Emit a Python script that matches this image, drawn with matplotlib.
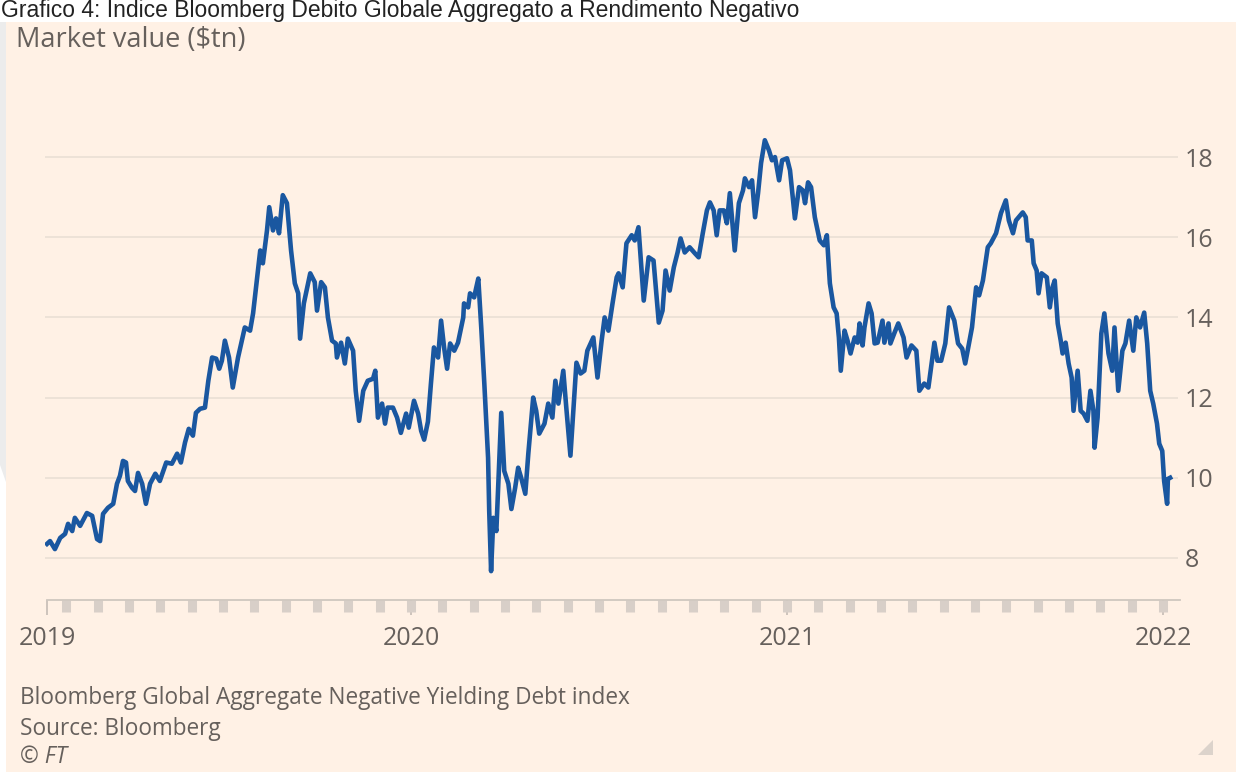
import matplotlib
matplotlib.use("Agg")
import matplotlib.pyplot as plt
from matplotlib.patches import Rectangle, Polygon

# market value of the index ($tn), dates as decimal years
years_2019 = [2019.032, 2019.040, 2019.053, 2019.067, 2019.080, 2019.088, 2019.099, 2019.106,
              2019.120, 2019.138, 2019.152, 2019.165, 2019.173, 2019.181, 2019.194, 2019.208,
              2019.218, 2019.226, 2019.234, 2019.242, 2019.247, 2019.258, 2019.266, 2019.274,
              2019.285, 2019.295, 2019.306, 2019.320, 2019.332, 2019.349, 2019.364, 2019.378,
              2019.388, 2019.399, 2019.409, 2019.420, 2019.428, 2019.439, 2019.452, 2019.461,
              2019.471, 2019.482, 2019.490, 2019.497, 2019.505, 2019.516, 2019.526, 2019.540,
              2019.558, 2019.572, 2019.580, 2019.591, 2019.599, 2019.606, 2019.617, 2019.623,
              2019.633, 2019.641, 2019.649, 2019.659, 2019.670, 2019.681, 2019.691, 2019.700,
              2019.705, 2019.715, 2019.732, 2019.744, 2019.750, 2019.761, 2019.771, 2019.779,
              2019.790, 2019.800, 2019.803, 2019.814, 2019.824, 2019.832, 2019.846, 2019.853,
              2019.862, 2019.873, 2019.885, 2019.899, 2019.905, 2019.912, 2019.923, 2019.931,
              2019.938, 2019.952, 2019.963, 2019.973, 2019.987, 2019.994]
values_2019 = [8.35, 8.42, 8.22, 8.50, 8.60, 8.85, 8.67, 9.00,
               8.80, 9.12, 9.05, 8.47, 8.42, 9.10, 9.25, 9.35,
               9.85, 10.05, 10.42, 10.38, 9.92, 9.75, 9.67, 10.12,
               9.85, 9.35, 9.85, 10.10, 9.92, 10.38, 10.35, 10.60,
               10.38, 10.88, 11.22, 11.05, 11.62, 11.72, 11.75, 12.42,
               13.00, 12.97, 12.72, 12.92, 13.42, 13.00, 12.25, 13.00,
               13.75, 13.67, 14.10, 15.00, 15.67, 15.35, 16.17, 16.75,
               16.17, 16.47, 16.10, 17.05, 16.85, 15.67, 14.85, 14.60,
               13.47, 14.35, 15.10, 14.88, 14.17, 14.88, 14.75, 14.00,
               13.42, 13.35, 13.00, 13.37, 12.85, 13.47, 13.17, 12.17,
               11.42, 12.17, 12.42, 12.47, 12.67, 11.50, 11.85, 11.35,
               11.75, 11.75, 11.50, 11.12, 11.60, 11.25]

years_2020 = [2020.008, 2020.019, 2020.027, 2020.035, 2020.045, 2020.053, 2020.061, 2020.072,
              2020.080, 2020.088, 2020.096, 2020.104, 2020.115, 2020.125, 2020.139, 2020.141,
              2020.152, 2020.157, 2020.168, 2020.173, 2020.179, 2020.187, 2020.195, 2020.205,
              2020.208, 2020.213, 2020.219, 2020.227, 2020.240, 2020.248, 2020.259, 2020.267,
              2020.277, 2020.285, 2020.293, 2020.304, 2020.312, 2020.325, 2020.333, 2020.341,
              2020.355, 2020.365, 2020.376, 2020.384, 2020.392, 2020.405, 2020.413, 2020.424,
              2020.440, 2020.451, 2020.461, 2020.469, 2020.485, 2020.496, 2020.507, 2020.515,
              2020.525, 2020.536, 2020.547, 2020.552, 2020.563, 2020.573, 2020.587, 2020.595,
              2020.605, 2020.619, 2020.632, 2020.645, 2020.659, 2020.669, 2020.677, 2020.688,
              2020.699, 2020.709, 2020.717, 2020.728, 2020.741, 2020.755, 2020.765, 2020.776,
              2020.787, 2020.795, 2020.805, 2020.813, 2020.821, 2020.832, 2020.840, 2020.848,
              2020.861, 2020.872, 2020.883, 2020.888, 2020.899, 2020.907, 2020.915, 2020.923,
              2020.931, 2020.941, 2020.952, 2020.960, 2020.968, 2020.979, 2020.987]
values_2020 = [11.92, 11.60, 11.17, 10.95, 11.40, 12.35, 13.25, 13.00,
               13.92, 13.25, 12.72, 13.35, 13.17, 13.37, 14.00, 14.35,
               14.25, 14.60, 14.50, 14.72, 14.97, 13.72, 12.35, 10.50,
               9.17, 7.67, 9.00, 8.67, 11.62, 10.17, 9.85, 9.22,
               9.75, 10.25, 10.00, 9.60, 10.60, 12.00, 11.67, 11.10,
               11.35, 11.85, 11.50, 12.42, 11.85, 12.67, 11.75, 10.55,
               12.87, 12.60, 12.67, 13.17, 13.50, 12.50, 13.42, 14.00,
               13.67, 14.35, 15.00, 15.10, 14.75, 15.85, 16.05, 15.92,
               16.25, 14.42, 15.50, 15.42, 13.87, 14.17, 15.17, 14.67,
               15.25, 15.62, 15.97, 15.62, 15.75, 15.60, 15.50, 16.10,
               16.67, 16.87, 16.67, 16.05, 16.67, 16.67, 16.35, 17.10,
               15.67, 16.85, 17.17, 17.47, 17.25, 17.42, 16.50, 17.10,
               17.85, 18.42, 18.17, 17.92, 18.00, 17.42, 17.92]

years_2021 = [2021.000, 2021.008, 2021.021, 2021.032, 2021.042, 2021.048, 2021.056, 2021.064,
              2021.074, 2021.087, 2021.098, 2021.106, 2021.114, 2021.124, 2021.132, 2021.138,
              2021.143, 2021.153, 2021.161, 2021.169, 2021.180, 2021.188, 2021.193, 2021.201,
              2021.206, 2021.217, 2021.225, 2021.233, 2021.241, 2021.254, 2021.259, 2021.270,
              2021.275, 2021.286, 2021.296, 2021.310, 2021.318, 2021.331, 2021.344, 2021.352,
              2021.365, 2021.376, 2021.392, 2021.400, 2021.410, 2021.421, 2021.431, 2021.445,
              2021.455, 2021.466, 2021.474, 2021.482, 2021.492, 2021.503, 2021.511, 2021.521,
              2021.534, 2021.542, 2021.556, 2021.569, 2021.582, 2021.590, 2021.601, 2021.609,
              2021.627, 2021.635, 2021.640, 2021.651, 2021.656, 2021.664, 2021.669, 2021.677,
              2021.691, 2021.699, 2021.706, 2021.712, 2021.720, 2021.728, 2021.733, 2021.741,
              2021.749, 2021.757, 2021.762, 2021.773, 2021.781, 2021.789, 2021.799, 2021.807,
              2021.815, 2021.818, 2021.826, 2021.836, 2021.844, 2021.855, 2021.865, 2021.871,
              2021.881, 2021.892, 2021.900, 2021.910, 2021.921, 2021.929, 2021.939, 2021.950,
              2021.958, 2021.966, 2021.974, 2021.984, 2021.990, 2021.998,
              2022.003, 2022.011, 2022.013, 2022.019]
values_2021 = [17.97, 17.67, 16.47, 17.25, 17.17, 16.85, 17.37, 17.25,
               16.50, 15.92, 15.80, 16.05, 14.85, 14.25, 14.10, 13.50,
               12.67, 13.67, 13.42, 13.10, 13.50, 13.37, 13.85, 13.30,
               13.75, 14.35, 14.10, 13.35, 13.37, 13.92, 13.37, 13.85,
               13.35, 13.62, 13.85, 13.50, 13.00, 13.30, 13.17, 12.17,
               12.35, 12.25, 13.37, 12.92, 12.92, 13.35, 14.25, 13.92,
               13.35, 13.22, 12.85, 13.25, 13.75, 14.75, 14.55, 14.92,
               15.75, 15.85, 16.10, 16.60, 16.92, 16.42, 16.10, 16.42,
               16.62, 16.50, 15.92, 15.92, 15.35, 15.17, 14.60, 15.10,
               15.00, 14.25, 14.75, 14.92, 13.85, 13.42, 13.10, 13.37,
               12.85, 12.50, 11.67, 12.67, 11.67, 11.60, 11.42, 12.17,
               11.67, 10.75, 11.50, 13.60, 14.10, 13.10, 12.67, 13.75,
               12.17, 13.17, 13.35, 13.92, 13.17, 14.00, 13.75, 14.12,
               13.35, 12.17, 11.85, 11.35, 10.85, 10.67,
               9.92, 9.35, 9.97, 10.00]

year_labels = ["2019", "2020", "2021", "2022"]
y_ticks = [8, 10, 12, 14, 16, 18]

title_text = "Grafico 4: Indice Bloomberg Debito Globale Aggregato a Rendimento Negativo"
unit_label = "Market value ($tn)"
notes = ["Bloomberg Global Aggregate Negative Yielding Debt index", "Source: Bloomberg"]
credit = "© FT"

W, H = 1236, 772
BG = "#FFF1E5"
GREY = "#66605C"

plt.rcParams["font.family"] = ["Open Sans", "DejaVu Sans"]

fig = plt.figure(figsize=(W / 100, H / 100), dpi=100, facecolor="white")

# pink FT panel + left grey sliver
fig.patches.append(Rectangle((6 / W, 0), 1, 1 - 22 / H, transform=fig.transFigure,
                             facecolor=BG, edgecolor="none", zorder=-10))
fig.patches.append(Polygon([(0, 1 - 22 / H), (6 / W, 1 - 22 / H), (6 / W, 1 - 482 / H), (0, 1 - 465 / H)],
                           closed=True, transform=fig.transFigure, facecolor="#ECECEC",
                           edgecolor="none", zorder=-10))
# resize handle in the corner
fig.patches.append(Polygon([(1213 / W, 1 - 740 / H), (1213 / W, 1 - 755 / H), (1198 / W, 1 - 755 / H)],
                           closed=True, transform=fig.transFigure, facecolor="#DCD3CB",
                           edgecolor="none"))

# caption in the white strip at the top
fig.text(1 / W, 1 - 17 / H, title_text, fontsize=16.5, color="#222222",
         va="baseline", ha="left", family=["Liberation Sans", "DejaVu Sans"])

ax = fig.add_axes([45 / W, 1 - 600 / H, 1133 / W, 483 / H])
ax.patch.set_visible(False)

t = years_2019 + years_2020 + years_2021
v = values_2019 + values_2020 + values_2021
ax.plot(t, v, color="#1A57A0", lw=3.3, solid_joinstyle="round", zorder=3)

# 376 px per year, 2020 at pixel 411
ax.set_xlim(2020 - 366 / 376, 2020 + 767 / 376)
ax.set_ylim(6.95, 19)

ax.set_yticks(y_ticks)
ax.yaxis.tick_right()
ax.tick_params(axis="y", length=0, pad=5, labelsize=18, labelcolor=GREY)
ax.grid(axis="y", color="#EADFD5", lw=1.2)

# the first year tick sits where the series starts
ax.set_xticks([t[0], 2020, 2021, 2022])
ax.set_xticklabels(year_labels)
months = [2019 + m / 12 for m in range(1, 37)]
ax.set_xticks(months, minor=True)
ax.xaxis.remove_overlapping_locs = False
ax.tick_params(axis="x", which="major", length=11, width=1.3, color="#C9C0B8",
               pad=8, labelsize=18, labelcolor=GREY)
ax.tick_params(axis="x", which="minor", length=8.5, width=6.5, color="#D8CFC8")

for s in ["top", "left", "right"]:
    ax.spines[s].set_visible(False)
ax.spines["bottom"].set_color("#CFC7BF")
ax.spines["bottom"].set_linewidth(1.3)
ax.spines["bottom"].set_bounds(t[0], 2020 + 769 / 376)

fig.text(16 / W, 1 - 40 / H, unit_label, fontsize=19.5, color=GREY, va="center", ha="left")
fig.text(20 / W, 1 - 698 / H, notes[0], fontsize=16.3, color=GREY, va="center", ha="left")
fig.text(20 / W, 1 - 729 / H, notes[1], fontsize=16.3, color=GREY, va="center", ha="left")
fig.text(20 / W, 1 - 757 / H, credit, fontsize=16.3, color=GREY, va="center", ha="left",
         style="italic")

fig.savefig("out.png", dpi=100, facecolor="white")
